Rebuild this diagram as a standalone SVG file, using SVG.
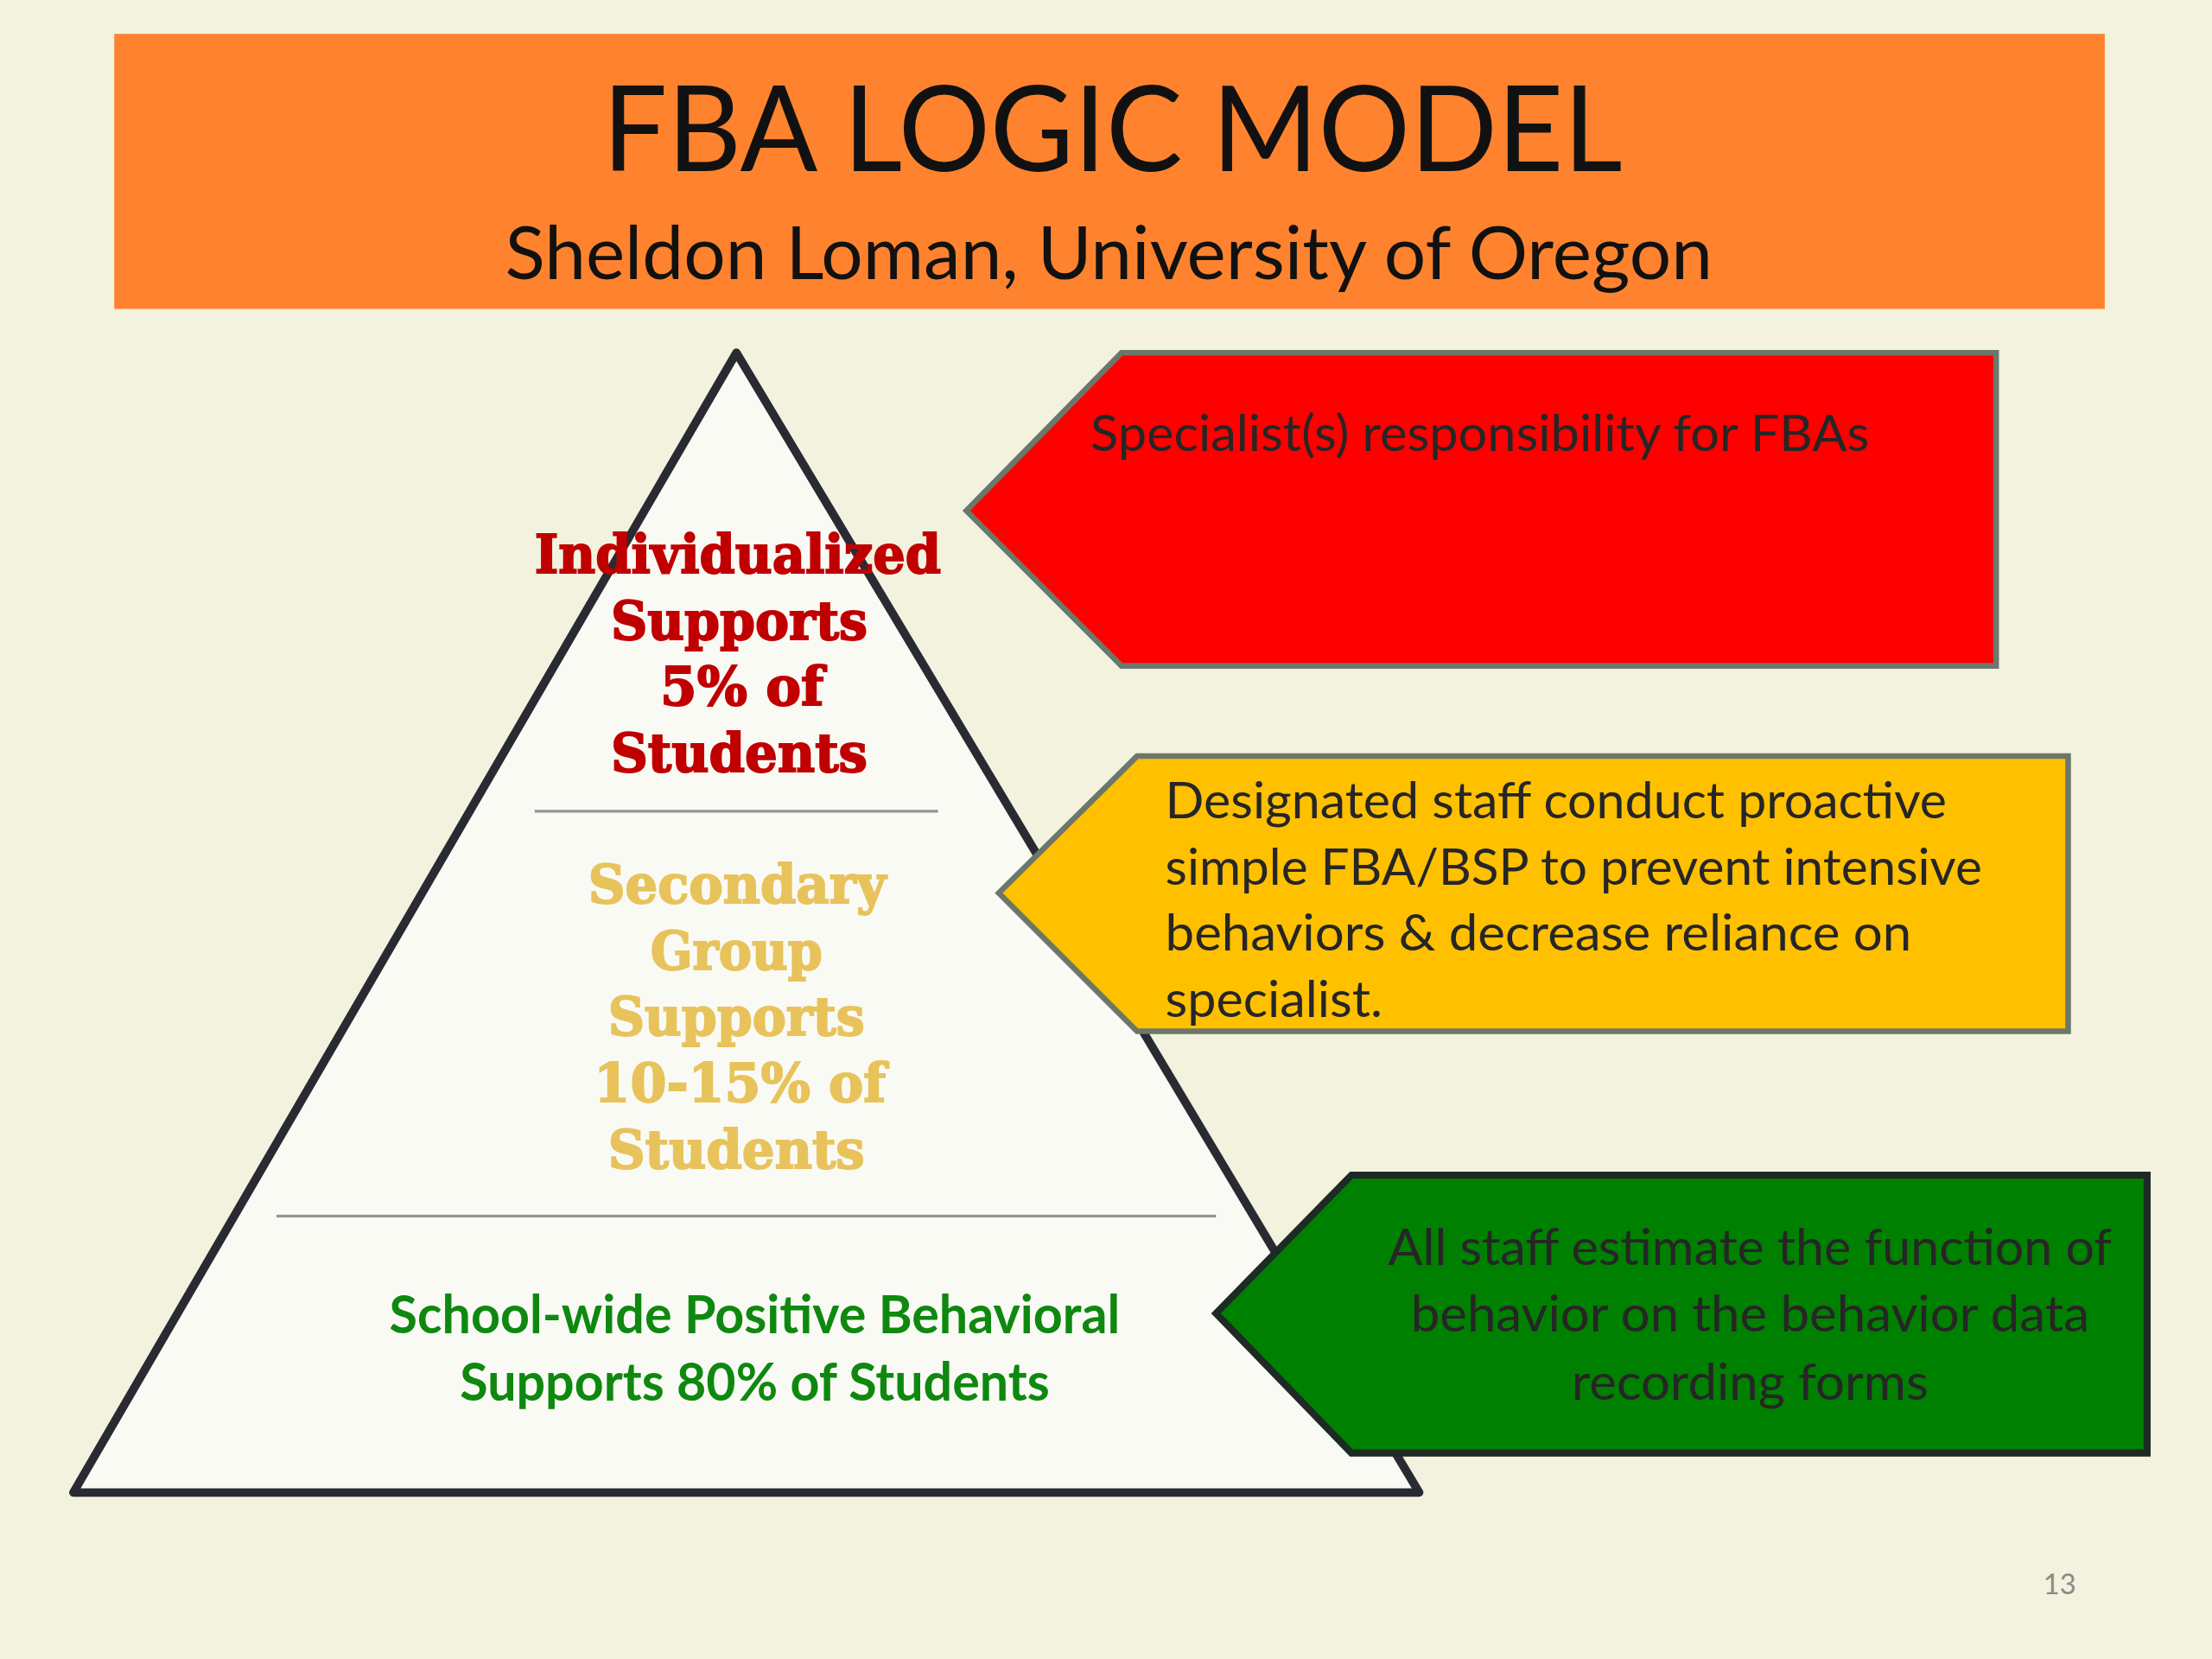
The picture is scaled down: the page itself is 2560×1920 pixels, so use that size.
<svg xmlns="http://www.w3.org/2000/svg" width="2560" height="1920" viewBox="0 0 2560 1920">
<style>
.sans{font-family:Lato,"Open Sans","Liberation Sans",sans-serif;}
.slab{font-family:"DejaVu Serif","Liberation Serif",serif;font-weight:bold;font-size:38px;stroke-width:1.2px;paint-order:stroke;}
.tier1{fill:#C00000;stroke:#C00000;}
.tier2{fill:#E8C35C;stroke:#E8C35C;}
.tier3{fill:#0F880F;font-weight:bold;font-size:38px;}
.box{font-size:36px;fill:#262626;}
.div{stroke:#8E9696;stroke-width:2;}
</style>
<rect x="0" y="0" width="2560" height="1920" fill="#F3F2DF"/>
<g transform="scale(1.632653)">
  <g id="header">
    <rect x="81" y="24" width="1411" height="195" fill="#FF832E"/>
    <text class="sans" x="788.5" y="121" font-size="84" text-anchor="middle" fill="#111" textLength="723" lengthAdjust="spacingAndGlyphs">FBA LOGIC MODEL</text>
    <text class="sans" x="786" y="198" font-size="52" text-anchor="middle" fill="#111" textLength="856" lengthAdjust="spacingAndGlyphs">Sheldon Loman, University of Oregon</text>
  </g>
  <g id="pyramid">
    <polygon points="522,250 52,1058 1006,1058" fill="#FAFAF5" stroke="#2A2A33" stroke-width="6" stroke-linejoin="round"/>
    <line class="div" x1="379" y1="575" x2="665" y2="575"/>
    <line class="div" x1="196" y1="862" x2="862" y2="862"/>
  </g>
  <g id="connectors"/>
  <g id="arrow-red">
    <polygon points="685,362 795,250 1415,250 1415,472 795,472" fill="#FF0000" stroke="#6B776A" stroke-width="4"/>
    <text class="sans box" x="773" y="320" fill="#3A2A30" textLength="552" lengthAdjust="spacingAndGlyphs">Specialist(s) responsibility for FBAs</text>
  </g>
  <g id="arrow-yellow">
    <polygon points="708,633 806,536 1466,536 1466,731 806,731" fill="#FFC000" stroke="#6B776A" stroke-width="4"/>
    <text class="sans box" x="826" y="580" textLength="554" lengthAdjust="spacingAndGlyphs">Designated staff conduct proactive</text>
    <text class="sans box" x="826" y="627" textLength="579" lengthAdjust="spacingAndGlyphs">simple FBA/BSP to prevent intensive</text>
    <text class="sans box" x="826" y="674" textLength="529" lengthAdjust="spacingAndGlyphs">behaviors &amp; decrease reliance on</text>
    <text class="sans box" x="826" y="721" textLength="154" lengthAdjust="spacingAndGlyphs">specialist.</text>
  </g>
  <g id="arrow-green">
    <polygon points="862,931 958,833 1522,833 1522,1030 958,1030" fill="#008000" stroke="#1E2A26" stroke-width="5"/>
    <text class="sans box" x="1240.5" y="897" text-anchor="middle" fill="#263030" textLength="513" lengthAdjust="spacingAndGlyphs">All staff estimate the function of</text>
    <text class="sans box" x="1240.5" y="944" text-anchor="middle" fill="#263030" textLength="481" lengthAdjust="spacingAndGlyphs">behavior on the behavior data</text>
    <text class="sans box" x="1240.5" y="992" text-anchor="middle" fill="#263030" textLength="253" lengthAdjust="spacingAndGlyphs">recording forms</text>
  </g>
  <g id="tier-individualized">
    <text class="slab tier1" x="523" y="406" text-anchor="middle" textLength="288" lengthAdjust="spacingAndGlyphs">Individualized</text>
    <text class="slab tier1" x="524" y="453" text-anchor="middle" textLength="182" lengthAdjust="spacingAndGlyphs">Supports</text>
    <text class="slab tier1" x="526" y="500" text-anchor="middle" textLength="116" lengthAdjust="spacingAndGlyphs">5% of</text>
    <text class="slab tier1" x="524" y="547" text-anchor="middle" textLength="182" lengthAdjust="spacingAndGlyphs">Students</text>
  </g>
  <g id="tier-secondary">
    <text class="slab tier2" x="522.5" y="640" text-anchor="middle" textLength="211" lengthAdjust="spacingAndGlyphs">Secondary</text>
    <text class="slab tier2" x="522" y="687" text-anchor="middle" textLength="122" lengthAdjust="spacingAndGlyphs">Group</text>
    <text class="slab tier2" x="522" y="734" text-anchor="middle" textLength="182" lengthAdjust="spacingAndGlyphs">Supports</text>
    <text class="slab tier2" x="524.5" y="781" text-anchor="middle" textLength="207" lengthAdjust="spacingAndGlyphs">10-15% of</text>
    <text class="slab tier2" x="522" y="828" text-anchor="middle" textLength="182" lengthAdjust="spacingAndGlyphs">Students</text>
  </g>
  <g id="tier-schoolwide">
    <text class="sans tier3" x="535" y="945" text-anchor="middle" textLength="518" lengthAdjust="spacingAndGlyphs">School-wide Positive Behavioral</text>
    <text class="sans tier3" x="535" y="993" text-anchor="middle" textLength="418" lengthAdjust="spacingAndGlyphs">Supports 80% of Students</text>
  </g>
  <text class="sans" x="1460" y="1130" font-size="20" text-anchor="middle" fill="#8A8A8A">13</text>
</g>
</svg>
